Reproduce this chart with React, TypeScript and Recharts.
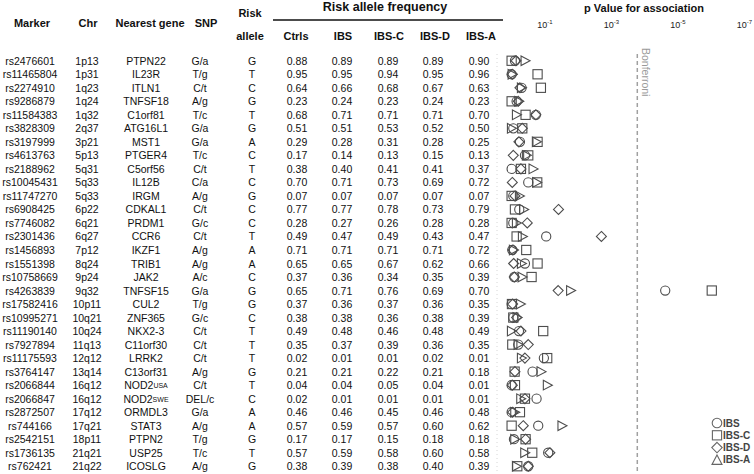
import React from 'react';
import { ScatterChart, Scatter, XAxis, YAxis, ReferenceLine, Customized, Legend } from 'recharts';

// ---------- data ----------
const markers = ['rs2476601','rs11465804','rs2274910','rs9286879','rs11584383','rs3828309','rs3197999','rs4613763','rs2188962','rs10045431','rs11747270','rs6908425','rs7746082','rs2301436','rs1456893','rs1551398','rs10758669','rs4263839','rs17582416','rs10995271','rs11190140','rs7927894','rs11175593','rs3764147','rs2066844','rs2066847','rs2872507','rs744166','rs2542151','rs1736135','rs762421'];
const chrs = ['1p13','1p31','1q23','1q24','1q32','2q37','3p21','5p13','5q31','5q33','5q33','6p22','6q21','6q27','7p12','8q24','9p24','9q32','10p11','10q21','10q24','11q13','12q12','13q14','16q12','16q12','17q12','17q21','18p11','21q21','21q22'];
const genes = ['PTPN22','IL23R','ITLN1','TNFSF18','C1orf81','ATG16L1','MST1','PTGER4','C5orf56','IL12B','IRGM','CDKAL1','PRDM1','CCR6','IKZF1','TRIB1','JAK2','TNFSF15','CUL2','ZNF365','NKX2-3','C11orf30','LRRK2','C13orf31','NOD2 USA','NOD2 SWE','ORMDL3','STAT3','PTPN2','USP25','ICOSLG'];
const snps = ['G/a','T/g','C/t','A/g','T/c','G/a','G/a','T/c','C/t','C/a','A/g','C/t','G/c','C/t','A/g','A/g','A/c','G/a','T/g','G/c','C/t','C/t','C/t','A/g','C/t','DEL/c','G/a','A/g','T/g','T/c','A/g'];
const riskAlleles = ['G','T','C','G','T','G','A','C','T','C','G','C','C','T','A','A','C','G','G','C','T','T','T','G','T','C','A','A','G','T','G'];
const freqCtrls = [0.88,0.95,0.64,0.23,0.68,0.51,0.29,0.17,0.38,0.70,0.07,0.77,0.28,0.49,0.71,0.65,0.37,0.65,0.37,0.38,0.49,0.35,0.02,0.21,0.04,0.02,0.46,0.57,0.17,0.57,0.38];
const freqIBS = [0.89,0.95,0.66,0.24,0.71,0.51,0.28,0.14,0.40,0.71,0.07,0.77,0.27,0.47,0.71,0.65,0.36,0.71,0.36,0.38,0.48,0.37,0.01,0.21,0.04,0.01,0.46,0.59,0.17,0.59,0.39];
const freqIBSC = [0.89,0.94,0.68,0.23,0.71,0.53,0.31,0.13,0.41,0.73,0.07,0.78,0.26,0.49,0.71,0.67,0.34,0.76,0.37,0.36,0.46,0.39,0.01,0.22,0.05,0.01,0.45,0.57,0.15,0.58,0.38];
const freqIBSD = [0.89,0.95,0.67,0.24,0.71,0.52,0.28,0.15,0.41,0.69,0.07,0.73,0.28,0.43,0.71,0.62,0.35,0.69,0.36,0.38,0.48,0.36,0.02,0.21,0.04,0.01,0.46,0.60,0.18,0.60,0.40];
const freqIBSA = [0.90,0.96,0.63,0.23,0.70,0.50,0.25,0.13,0.37,0.72,0.07,0.79,0.28,0.47,0.72,0.66,0.39,0.70,0.35,0.39,0.49,0.35,0.01,0.18,0.01,0.01,0.48,0.62,0.18,0.58,0.39];

// -log10(p) per subgroup
const logpIBS = [0.1,0,0.3,0.15,0.73,0.05,0.25,0.4,0,0.5,0.05,0.23,0.05,1.04,0.02,0.4,0.08,4.62,0,0.05,0.22,0.2,0.97,0.63,0,0.75,0,0.8,0.07,1.1,0.5];
const logpIBSC = [0,0.78,0.88,0,0.42,0.32,0.78,0.5,0.28,0.77,0,0.1,0,0.15,0.44,0.78,0.6,6.02,0.01,0.05,0.95,0.02,1.07,0.09,0.1,0.4,0.25,0,0.42,0.62,0.17];
const logpIBSD = [0.13,0.02,0.25,0.2,0.73,0.32,0.22,0.05,0.28,0.02,0.1,1.41,0.47,2.7,0.04,0.06,0.08,1.4,0.03,0.15,0.28,0.5,0.4,0.1,0.02,0.4,0.03,0.35,0.42,1.15,0.5];
const logpIBSA = [0.41,0.02,0.3,0.22,0.15,0,0.75,0.45,0.65,0.76,0.24,0.37,0.15,0.33,0.06,0.3,0.32,1.78,0.27,0.17,0,0.2,0.3,0.89,1.08,0.28,0.1,1.52,0.1,0.4,0.15];

const xTicks = [1, 3, 5, 7];
const bonferroni = 3.78;

const seriesNames = ['IBS', 'IBS-C', 'IBS-D', 'IBS-A'];

// ---------- styling ----------
const FONT = '"Liberation Sans", Arial, Helvetica, sans-serif';
const MK = '#4d4d4d';
const rowIdx = markers.map((_, i) => i);
const toData = (arr: number[]) => arr.map((x, i) => ({ x, y: i }));

const CircleShape = (p: any) => (
  <circle cx={p.cx} cy={p.cy} r={4.6} fill="none" stroke={MK} strokeWidth={1.1} />
);
const SquareShape = (p: any) => (
  <rect x={p.cx - 4.6} y={p.cy - 4.6} width={9.2} height={9.2} fill="none" stroke={MK} strokeWidth={1.1} />
);
const DiamondShape = (p: any) => (
  <polygon points={`${p.cx},${p.cy - 5} ${p.cx + 5},${p.cy} ${p.cx},${p.cy + 5} ${p.cx - 5},${p.cy}`} fill="none" stroke={MK} strokeWidth={1.1} />
);
const TriRightShape = (p: any) => (
  <polygon points={`${p.cx - 4.2},${p.cy - 4.8} ${p.cx + 4.8},${p.cy} ${p.cx - 4.2},${p.cy + 4.8}`} fill="none" stroke={MK} strokeWidth={1.1} />
);

const cols = { marker: 30, chr: 87, gene: 146, snp: 200, risk: 252, ctrls: 297, ibs: 342, ibsc: 388, ibsd: 433, ibsa: 479 };

const RowTick = (props: any) => {
  const { y, payload } = props;
  const i = payload.value;
  if (i < 0 || i >= markers.length) return null;
  const [g, suf] = genes[i].split(' ');
  const t = (x: number, s: any) => (
    <text x={x} y={y} textAnchor="middle" dominantBaseline="central">{s}</text>
  );
  return (
    <g fontFamily={FONT} fontSize={10.5} fill="#111">
      {t(cols.marker, markers[i])}
      {t(cols.chr, chrs[i])}
      <text x={cols.gene} y={y} textAnchor="middle" dominantBaseline="central">
        {g}
        {suf ? <tspan fontSize={7}>{suf}</tspan> : null}
      </text>
      {t(cols.snp, snps[i])}
      {t(cols.risk, riskAlleles[i])}
      {t(cols.ctrls, freqCtrls[i].toFixed(2))}
      {t(cols.ibs, freqIBS[i].toFixed(2))}
      {t(cols.ibsc, freqIBSC[i].toFixed(2))}
      {t(cols.ibsd, freqIBSD[i].toFixed(2))}
      {t(cols.ibsa, freqIBSA[i].toFixed(2))}
    </g>
  );
};

const PTick = (props: any) => {
  const { x, payload } = props;
  return (
    <text x={x} y={28} textAnchor="middle" fontFamily={FONT} fontSize={9} fill="#222">
      <tspan>10</tspan>
      <tspan dy={-4} fontSize={6}>{`-${payload.value}`}</tspan>
    </text>
  );
};

const Headers = () => {
  const h = (x: number, y: number, s: string, size = 11) => (
    <text x={x} y={y} textAnchor="middle" dominantBaseline="central" fontFamily={FONT} fontWeight="bold" fontSize={size} fill="#111">{s}</text>
  );
  return (
    <g>
      {h(32, 23, 'Marker')}
      {h(88, 23, 'Chr')}
      {h(150, 23, 'Nearest gene')}
      {h(206, 23, 'SNP')}
      {h(250, 13, 'Risk')}
      {h(250, 36, 'allele')}
      {h(296, 36, 'Ctrls')}
      {h(343, 36, 'IBS')}
      {h(389, 36, 'IBS-C')}
      {h(435, 36, 'IBS-D')}
      {h(481, 36, 'IBS-A')}
      {h(385, 7, 'Risk allele frequency', 12.5)}
      <line x1={273} x2={503} y1={20} y2={20} stroke="#111" strokeWidth={1.5} />
      {h(644, 8, 'p Value for association')}
      <text transform="translate(642,48) rotate(90)" fontFamily={FONT} fontSize={10.5} fill="#9a9a9a">Bonferroni</text>
    </g>
  );
};

const legendShapes = [
  (cx: number, cy: number) => <circle cx={cx} cy={cy} r={4.8} fill="none" stroke="#666" strokeWidth={1.1} />,
  (cx: number, cy: number) => <rect x={cx - 4.6} y={cy - 4.6} width={9.2} height={9.2} fill="none" stroke="#666" strokeWidth={1.1} />,
  (cx: number, cy: number) => <polygon points={`${cx},${cy - 5.2} ${cx + 5.2},${cy} ${cx},${cy + 5.2} ${cx - 5.2},${cy}`} fill="none" stroke="#666" strokeWidth={1.1} />,
  (cx: number, cy: number) => <polygon points={`${cx},${cy - 5} ${cx + 5},${cy + 4.5} ${cx - 5},${cy + 4.5}`} fill="none" stroke="#666" strokeWidth={1.1} />,
];

const LegendBox = (props: any) => {
  const payload = (props.payload || []).slice().sort(
    (a: any, b: any) => seriesNames.indexOf(a.value) - seriesNames.indexOf(b.value)
  );
  return (
    <svg width={46} height={52} style={{ display: 'block' }}>
      {payload.map((e: any, i: number) => {
        const cy = 6 + i * 12.3;
        const k = Math.max(0, seriesNames.indexOf(e.value));
        return (
          <g key={i}>
            {legendShapes[k](7, cy)}
            <text x={13} y={cy} dominantBaseline="central" fontFamily={FONT} fontWeight="bold" fontSize={10} fill="#444">{e.value}</text>
          </g>
        );
      })}
    </svg>
  );
};

export default function App() {
  return (
    <div style={{ position: 'absolute', left: 0, top: 0, background: '#fff' }}>
      <ScatterChart width={754} height={474} margin={{ top: 0, right: 3, bottom: 1, left: 0 }}>
        <XAxis
          type="number"
          dataKey="x"
          orientation="top"
          domain={[-0.44, 7.2]}
          ticks={xTicks}
          height={54}
          axisLine={false}
          tickLine={false}
          tick={<PTick />}
          allowDataOverflow
        />
        <YAxis
          type="number"
          dataKey="y"
          domain={[-0.5, 30.5]}
          reversed
          ticks={rowIdx}
          interval={0}
          width={497}
          axisLine={{ stroke: '#d6d6d6', strokeDasharray: '1 3' }}
          tickLine={false}
          tick={<RowTick />}
          allowDataOverflow
        />
        <ReferenceLine x={bonferroni} stroke="#a0a0a0" strokeWidth={1.5} strokeDasharray="4 3" />
        <Scatter name={seriesNames[0]} data={toData(logpIBS)} shape={CircleShape} isAnimationActive={false} />
        <Scatter name={seriesNames[1]} data={toData(logpIBSC)} shape={SquareShape} isAnimationActive={false} />
        <Scatter name={seriesNames[2]} data={toData(logpIBSD)} shape={DiamondShape} isAnimationActive={false} />
        <Scatter name={seriesNames[3]} data={toData(logpIBSA)} shape={TriRightShape} isAnimationActive={false} />
        <Legend
          layout="vertical"
          align="center"
          verticalAlign="middle"
          content={<LegendBox />}
          wrapperStyle={{ left: 710, top: 417, width: 46, height: 52 }}
        />
        <Customized component={<Headers />} />
      </ScatterChart>
    </div>
  );
}
